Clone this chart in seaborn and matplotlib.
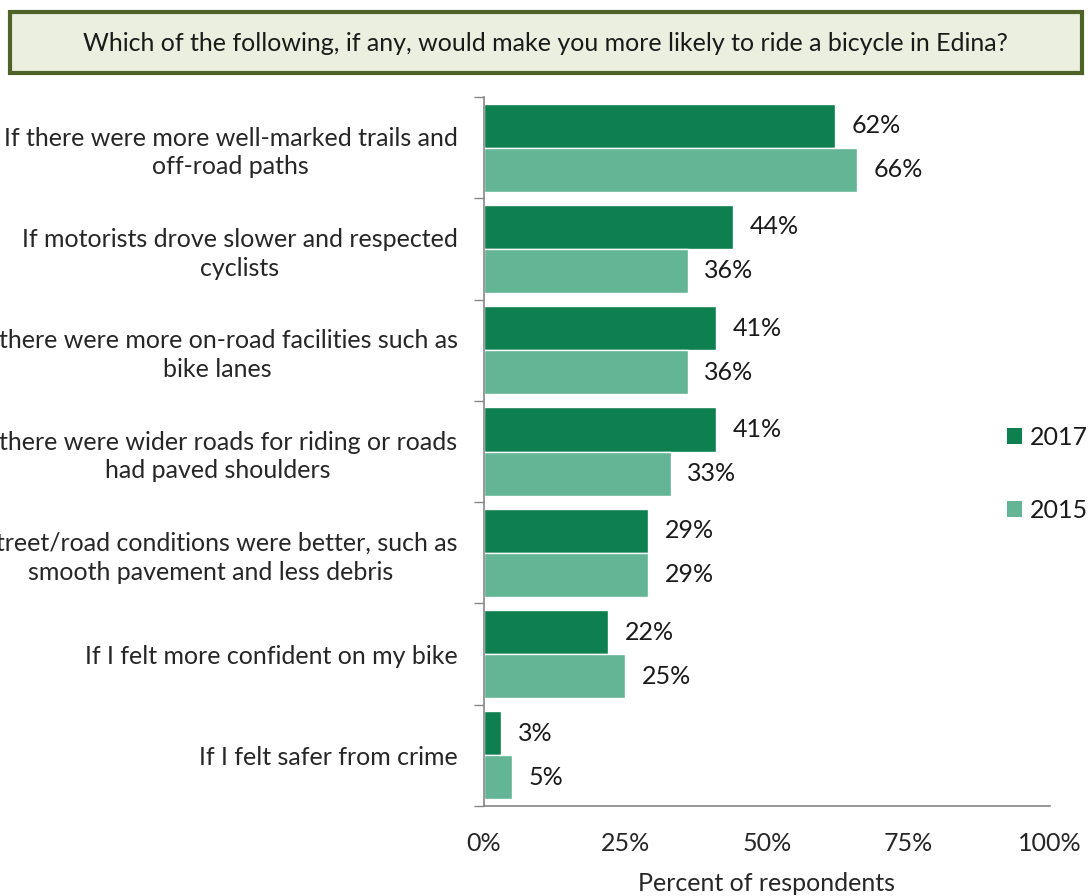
import matplotlib
matplotlib.use("Agg")
import matplotlib.pyplot as plt
from matplotlib.patches import Rectangle, Patch
from matplotlib.ticker import FixedLocator, NullFormatter
import seaborn as sns
import pandas as pd

title = "Which of the following, if any, would make you more likely to ride a bicycle in Edina?"
categories = [
    "If there were more well-marked trails and\noff-road paths",
    "If motorists drove slower and respected\ncyclists",
    "If there were more on-road facilities such as\nbike lanes",
    "If there were wider roads for riding or roads\nhad paved shoulders",
    "If street/road conditions were better, such as\nsmooth pavement and less debris",
    "If I felt more confident on my bike",
    "If I felt safer from crime",
]
years = ["2017", "2015"]
values_2017 = [62, 44, 41, 41, 29, 22, 3]
values_2015 = [66, 36, 36, 33, 29, 25, 5]
x_ticks = [0, 25, 50, 75, 100]
x_tick_labels = ["0%", "25%", "50%", "75%", "100%"]
x_label = "Percent of respondents"

colors = {"2017": "#0e8050", "2015": "#63b595"}
FS = 18

df = pd.DataFrame({
    "category": categories * 2,
    "year": [years[0]] * len(categories) + [years[1]] * len(categories),
    "value": values_2017 + values_2015,
})

sns.set_theme(style="white")
plt.rcParams["font.family"] = ["Lato", "DejaVu Sans"]
plt.rcParams["text.color"] = "#1a1a1a"

fig = plt.figure(figsize=(10.9, 8.96), dpi=100)
ax = fig.add_axes([0.444, 0.1004, 0.519, 0.7913])

sns.barplot(data=df, y="category", x="value", hue="year", order=categories,
            hue_order=years, palette=colors, orient="h", width=0.87,
            saturation=1, ax=ax, legend=False)

ax.set_xlim(0, 100)
n = len(categories)
ax.set_ylim(n - 0.5, -0.5)

# value labels to the right of each bar
for container, yr in zip(ax.containers, years):
    labels = [f"{v:.0f}%" for v in container.datavalues]
    ax.bar_label(container, labels=labels, padding=12, fontsize=FS, color="#1a1a1a")

# x axis
ax.set_xticks(x_ticks)
ax.set_xticklabels(x_tick_labels, fontsize=FS)
ax.set_xlabel(x_label, fontsize=FS, labelpad=12)
ax.tick_params(axis="x", direction="out", length=7, width=1, color="#868686", pad=12)

# y axis: labels at centers, ticks at group boundaries
ax.set_yticks(range(n))
ax.set_yticklabels(categories, fontsize=FS, ha="right", multialignment="center",
                   linespacing=1.3)
ax.tick_params(axis="y", which="major", length=0, pad=19)
ax.yaxis.set_minor_locator(FixedLocator([i - 0.5 for i in range(n + 1)]))
ax.yaxis.set_minor_formatter(NullFormatter())
ax.tick_params(axis="y", which="minor", direction="out", length=7, width=1, color="#868686", left=True)
ax.set_ylabel("")

for side in ["top", "right"]:
    ax.spines[side].set_visible(False)
for side in ["left", "bottom"]:
    ax.spines[side].set_color("#868686")
    ax.spines[side].set_linewidth(1.2)

# legend
handles = [Patch(facecolor=colors[y], edgecolor="none", label=y) for y in years]
fig.legend(handles=handles, loc="center left", bbox_to_anchor=(0.903, 0.471),
           frameon=False, fontsize=FS, handlelength=0.62, handleheight=0.62,
           handletextpad=0.3, labelspacing=2.0)

# title box
fig.patches.append(Rectangle((0.0092, 0.9185), 0.9835, 0.068, transform=fig.transFigure,
                             facecolor="#ebefdf", edgecolor="#4f6228", linewidth=3,
                             zorder=0))
fig.text(0.5, 0.951, title, ha="center", va="center", fontsize=FS, color="#1a1a1a")

fig.savefig("out.png", dpi=100)
